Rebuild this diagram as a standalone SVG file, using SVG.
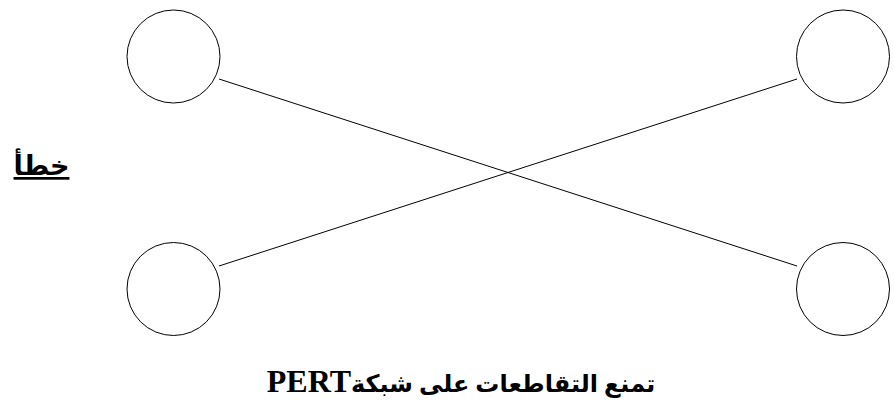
<svg xmlns="http://www.w3.org/2000/svg" width="894" height="404" viewBox="0 0 894 404">
<style>
.node{fill:#fff;stroke:#000;stroke-width:1}
.edge{stroke:#000;stroke-width:1;fill:none}
.lbl{font-family:"Liberation Serif","DejaVu Sans",serif;font-weight:bold;fill:#000}
</style>
<rect width="894" height="404" fill="#fff"/>
<g id="connectors">
<line class="edge" x1="219" y1="79" x2="797" y2="266"/>
<line class="edge" x1="219" y1="266" x2="797" y2="79"/>
</g>
<g id="node-top-left"><circle class="node" cx="173.5" cy="56.5" r="46.5"/></g>
<g id="node-top-right"><circle class="node" cx="843" cy="56.5" r="46.5"/></g>
<g id="node-bottom-left"><circle class="node" cx="173.5" cy="289" r="46.5"/></g>
<g id="node-bottom-right"><circle class="node" cx="843" cy="289" r="46.5"/></g>
<g id="label-wrong">
<text class="lbl" x="41.5" y="175" font-size="27" text-anchor="middle" direction="rtl" text-decoration="underline">خطأ</text>
</g>
<g id="label-caption">
<text class="lbl" x="461" y="392" font-size="24" text-anchor="middle" direction="rtl">تمنع التقاطعات على شبكة<tspan font-size="32">PERT</tspan></text>
</g>
</svg>
